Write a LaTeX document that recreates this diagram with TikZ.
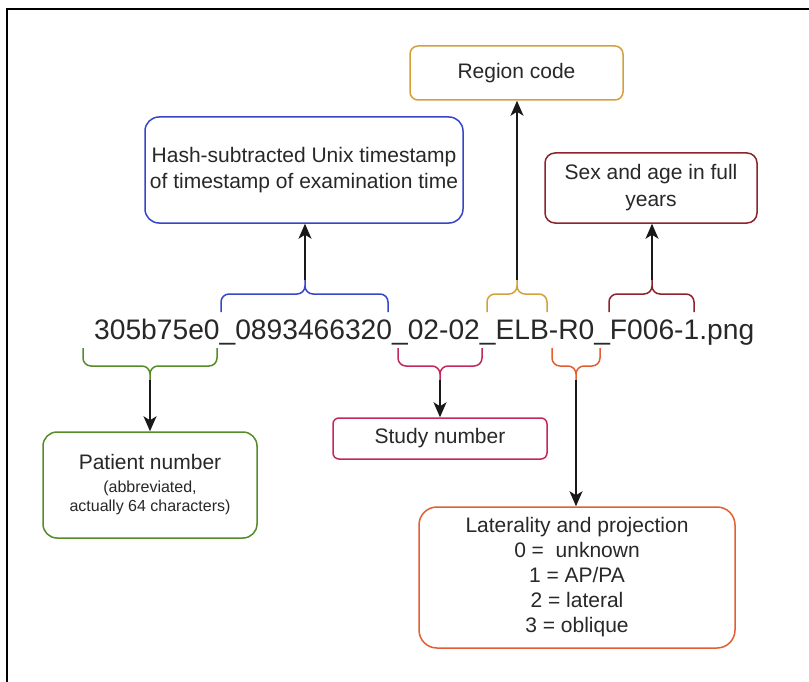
\documentclass[tikz,border=0pt]{standalone}
\usepackage{fontspec}
\setmainfont{Liberation Sans}
\usetikzlibrary{arrows.meta}
\definecolor{cblue}{RGB}{55,70,200}
\definecolor{cgold}{RGB}{212,160,60}
\definecolor{cdred}{RGB}{140,35,45}
\definecolor{cgreen}{RGB}{85,140,40}
\definecolor{cmag}{RGB}{195,40,90}
\definecolor{corange}{RGB}{225,95,50}
\definecolor{txt}{RGB}{40,40,40}
\begin{document}
\begin{tikzpicture}[x=1pt,y=-1pt,
  box/.style={draw, line width=1.5pt, inner sep=0pt, align=center, text=txt,
    font=\fontsize{21}{25}\selectfont, fill=white},
  arr/.style={line width=1.6pt, draw=black!90, -{Stealth[length=15pt,width=13pt,inset=4pt]}},
  brc/.style={line width=1.5pt, rounded corners=8pt}]
\useasboundingbox (0,0) rectangle (809,682);
\fill[white] (0,0) rectangle (809,682);
\draw[line width=2pt] (6.5,682) -- (6.5,9.5) -- (809,9.5);

% boxes
\node[box, draw=cblue, rounded corners=14pt, minimum width=318pt, minimum height=106pt,
  font=\fontsize{21}{26}\selectfont] (hash) at (304,170)
  {Hash-subtracted Unix timestamp\\of timestamp of examination time};
\node[box, draw=cgold, rounded corners=8pt, minimum width=213pt, minimum height=54pt]
  (region) at (516.5,73) {Region code};
\node[box, draw=cdred, rounded corners=10pt, minimum width=212pt, minimum height=70pt,
  font=\fontsize{21}{27}\selectfont] (sex) at (651,188) {Sex and age in full\\years};
\node[box, draw=cgreen, rounded corners=14pt, minimum width=214pt, minimum height=106pt,
  font=\fontsize{16}{19}\selectfont] (patient) at (150,485)
  {{\fontsize{21}{25}\selectfont Patient number}\\[4pt](abbreviated,\\actually 64 characters)};
\node[box, draw=cmag, rounded corners=6pt, minimum width=214pt, minimum height=41pt]
  (study) at (440,438.5) {Study number};
\node[box, draw=corange, rounded corners=18pt, minimum width=316pt, minimum height=141pt]
  (lat) at (577,577.5)
  {Laterality and projection\\0 = \ unknown\\1 = AP/PA\\2 = lateral\\3 = oblique};

% file name
\node[anchor=base west, inner sep=0pt, font=\fontsize{28.2}{34}\selectfont, text=txt]
  (fname) at (94,339) {305b75e0\_0893466320\_02-02\_ELB-R0\_F006-1.png};

% braces above
\draw[brc, cblue] (221,312) -- (221,294) -- (305,294) -- (305,280)
                  (388,312) -- (388,294) -- (305,294) -- (305,280);
\draw[brc, cgold] (487,312) -- (487,294) -- (517,294) -- (517,280)
                  (547,312) -- (547,294) -- (517,294) -- (517,280);
\draw[brc, cdred] (609,312) -- (609,294) -- (652,294) -- (652,280)
                  (694,312) -- (694,294) -- (652,294) -- (652,280);
% braces below
\draw[brc, cgreen] (83,348) -- (83,366) -- (150,366) -- (150,380)
                   (217,348) -- (217,366) -- (150,366) -- (150,380);
\draw[brc, cmag] (398,348) -- (398,366) -- (440,366) -- (440,380)
                 (482,348) -- (482,366) -- (440,366) -- (440,380);
\draw[brc, corange] (552,348) -- (552,366) -- (576,366) -- (576,380)
                    (600,348) -- (600,366) -- (576,366) -- (576,380);

% brace tips
\coordinate (tB) at (305,280);
\coordinate (tG) at (517,280);
\coordinate (tD) at (652,280);
\coordinate (tP) at (150,380);
\coordinate (tS) at (440,380);
\coordinate (tL) at (576,380);

% arrows
\draw[arr] (tB) -- (tB |- hash.south);
\draw[arr] (tG) -- (tG |- region.south);
\draw[arr] (tD) -- (tD |- sex.south);
\draw[arr] (tP) -- (tP |- patient.north);
\draw[arr] (tS) -- (tS |- study.north);
\draw[arr] (tL) -- (tL |- lat.north);
\end{tikzpicture}
\end{document}
